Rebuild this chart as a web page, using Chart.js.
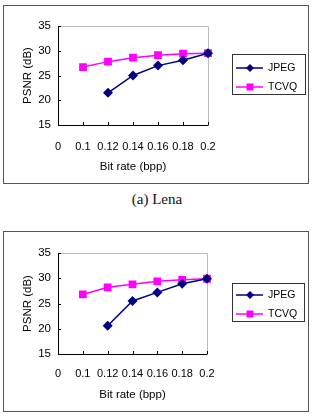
<!DOCTYPE html>
<html>
<head>
<meta charset="utf-8">
<script src="https://cdn.jsdelivr.net/npm/chart.js@4.4.1/dist/chart.umd.min.js"></script>
<style>
  body { margin: 0; background: #fff; width: 314px; height: 418px; position: relative; overflow: hidden; }
  .box { position: absolute; border: 1px solid #555; background: #fff; }
  .box canvas { display: block; }
  .caption { position: absolute; left: 0; width: 314px; text-align: center;
             font-family: 'Liberation Serif', 'Times New Roman', serif; font-size: 15px; color: #111; }
</style>
</head>
<body>
<div class="box" style="left:3px;top:5px;width:304px;height:177px"><canvas id="lenaChart" width="304" height="177"></canvas></div>
<div class="caption" style="top:191px">(a) Lena</div>
<div class="box" style="left:3px;top:231px;width:304px;height:179px"><canvas id="secondChart" width="304" height="179"></canvas></div>
<script>
// Data
const xLabels = ['0', '0.1', '0.12', '0.14', '0.16', '0.18', '0.2'];
const lenaJpeg = [null, null, 21.5, 25.0, 27.0, 28.1, 29.5];
const lenaTcvq = [null, 26.7, 27.8, 28.6, 29.1, 29.4, 29.5];
const secondJpeg = [null, null, 20.6, 25.5, 27.2, 28.9, 29.9];
const secondTcvq = [null, 26.8, 28.2, 28.8, 29.4, 29.7, 29.9];
const seriesNames = ['JPEG', 'TCVQ'];

const JPEG_COLOR = '#000080';
const TCVQ_COLOR = '#ff00ff';
const FONT = "'Liberation Sans', Arial, sans-serif";

Chart.defaults.color = '#000';
Chart.defaults.font.family = FONT;

// plot frame + inward tick marks, Excel style
const framePlugin = {
    id: 'frame',
    beforeDatasetsDraw(chart) {
        const { ctx, chartArea: a, scales } = chart;
        ctx.save();
        ctx.lineWidth = 1;
        ctx.strokeStyle = '#bbbbbb';
        ctx.beginPath();
        ctx.moveTo(a.left, a.top + 0.5);
        ctx.lineTo(a.right + 0.5, a.top + 0.5);
        ctx.lineTo(a.right + 0.5, a.bottom);
        ctx.stroke();
        ctx.strokeStyle = '#000';
        ctx.beginPath();
        ctx.moveTo(a.left + 0.5, a.top);
        ctx.lineTo(a.left + 0.5, a.bottom + 0.5);
        ctx.lineTo(a.right + 0.5, a.bottom + 0.5);
        // ticks
        scales.y.ticks.forEach(t => {
            const py = Math.round(scales.y.getPixelForValue(t.value)) + 0.5;
            ctx.moveTo(a.left, py);
            ctx.lineTo(a.left + 3, py);
        });
        xLabels.forEach((l, i) => {
            const px = Math.round(scales.x.getPixelForValue(i)) + 0.5;
            ctx.moveTo(px, a.bottom);
            ctx.lineTo(px, a.bottom - 3);
        });
        ctx.stroke();
        ctx.restore();
    }
};

// legend box with line + marker samples
const legendPlugin = {
    id: 'boxLegend',
    afterDraw(chart, args, opts) {
        const { ctx } = chart;
        const b = opts.box;
        ctx.save();
        ctx.strokeStyle = '#333';
        ctx.lineWidth = 1;
        ctx.strokeRect(b.x + 0.5, b.y + 0.5, b.w, b.h);
        chart.data.datasets.forEach((ds, i) => {
            const y = b.rows[i];
            ctx.strokeStyle = ds.borderColor;
            ctx.lineWidth = 1.5;
            ctx.beginPath();
            ctx.moveTo(b.x + 4, y);
            ctx.lineTo(b.x + 31, y);
            ctx.stroke();
            ctx.fillStyle = ds.borderColor;
            const mx = b.x + 18;
            if (ds.pointStyle === 'rect') {
                ctx.fillRect(mx - 3.5, y - 3.5, 7, 7);
            } else {
                ctx.beginPath();
                ctx.moveTo(mx, y - 4);
                ctx.lineTo(mx + 4, y);
                ctx.lineTo(mx, y + 4);
                ctx.lineTo(mx - 4, y);
                ctx.closePath();
                ctx.fill();
            }
            ctx.fillStyle = '#000';
            ctx.font = '10.5px ' + FONT;
            ctx.textBaseline = 'middle';
            ctx.fillText(ds.label, b.x + 36, y + 0.5);
        });
        ctx.restore();
    }
};

function makeChart(id, jpeg, tcvq, g) {
    const ctx = document.getElementById(id).getContext('2d');
    return new Chart(ctx, {
        type: 'line',
        data: {
            labels: xLabels,
            datasets: [{
                label: seriesNames[0],
                data: jpeg,
                borderColor: JPEG_COLOR,
                backgroundColor: JPEG_COLOR,
                borderWidth: 1.5,
                pointStyle: 'rectRot',
                pointRadius: 5,
                pointBorderWidth: 0,
                tension: 0
            }, {
                label: seriesNames[1],
                data: tcvq,
                borderColor: TCVQ_COLOR,
                backgroundColor: TCVQ_COLOR,
                borderWidth: 1.5,
                pointStyle: 'rect',
                pointRadius: 5.5,
                pointBorderWidth: 0,
                tension: 0
            }]
        },
        options: {
            responsive: false,
            animation: false,
            layout: { padding: { left: 10, top: g.top, right: g.right, bottom: 0 } },
            scales: {
                x: {
                    type: 'category',
                    offset: false,
                    grid: { display: false, drawTicks: false },
                    border: { display: false },
                    ticks: { font: { size: 11 }, padding: g.tickPad, maxRotation: 0, autoSkip: false },
                    title: { display: true, text: 'Bit rate (bpp)', font: { size: 11.5 }, padding: { top: 0, bottom: g.titlePad } },
                    afterFit(s) { s.height = g.xH; }
                },
                y: {
                    min: 15, max: 35,
                    ticks: { stepSize: 5, font: { size: 11.5 }, padding: 7 },
                    grid: { display: false, drawTicks: false },
                    border: { display: false },
                    title: { display: true, text: 'PSNR (dB)', font: { size: 11.5 }, padding: { top: 7, bottom: 0 } },
                    afterFit(s) { s.width = 44; }
                }
            },
            plugins: {
                legend: { display: false },
                tooltip: { enabled: false },
                boxLegend: { box: g.legend }
            }
        },
        plugins: [framePlugin, legendPlugin]
    });
}

makeChart('lenaChart', lenaJpeg, lenaTcvq, {
    top: 20, right: 100, xH: 58, tickPad: 15, titlePad: 9,
    legend: { x: 228, y: 48, w: 73, h: 40, rows: [62, 81] }
});
makeChart('secondChart', secondJpeg, secondTcvq, {
    top: 21, right: 101, xH: 57, tickPad: 13, titlePad: 9,
    legend: { x: 228, y: 51, w: 72, h: 38, rows: [63, 82] }
});
</script>
</body>
</html>
